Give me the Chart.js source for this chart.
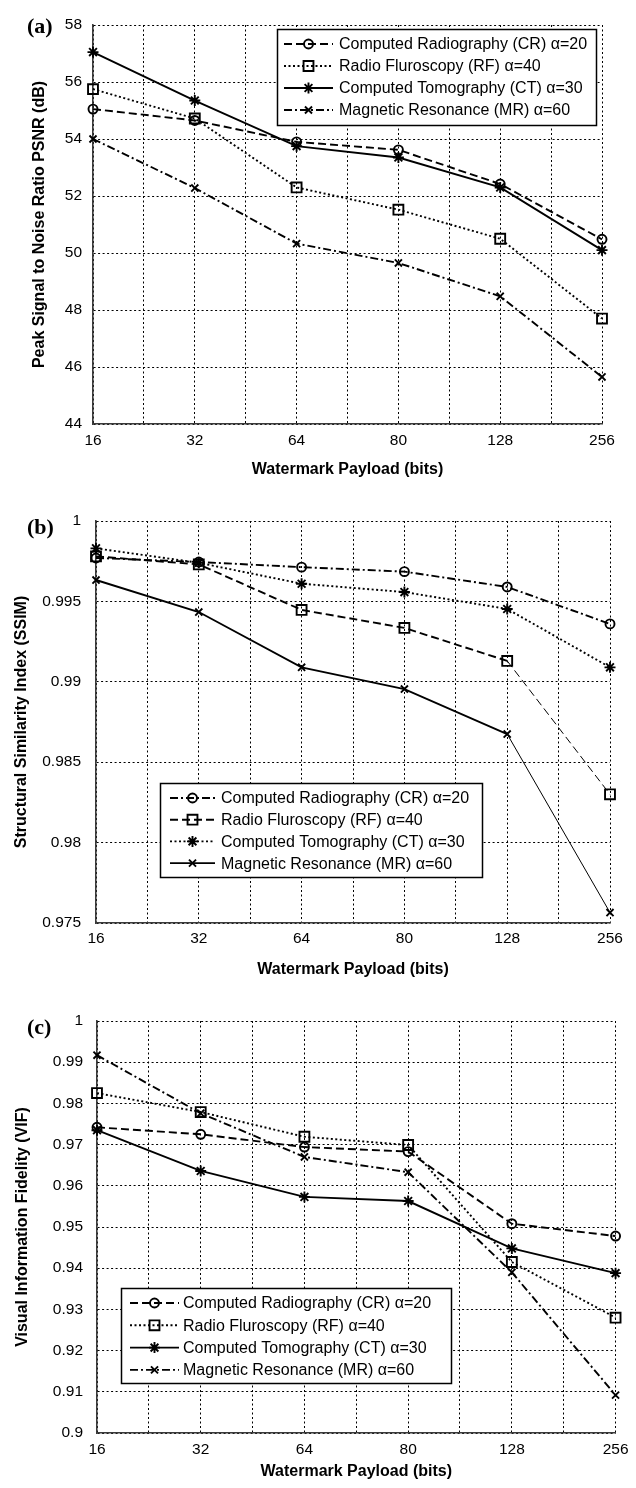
<!DOCTYPE html>
<html><head><meta charset="utf-8">
<script src="https://cdn.jsdelivr.net/npm/chart.js@4.4.1/dist/chart.umd.min.js"></script>
<style>
html,body{margin:0;padding:0;background:#fff;}
body{width:636px;height:1488px;position:relative;overflow:hidden;}
.panel{position:absolute;left:0;width:636px;}
.panel canvas{display:block;}
.tag{position:absolute;left:27px;font:bold 22px "Liberation Serif","Times New Roman",serif;line-height:22px;color:#000;}
</style></head><body>
<div class="panel" style="top:0;height:490px"><canvas id="cA" width="636" height="490"></canvas></div>
<div class="panel" style="top:490px;height:495px"><canvas id="cB" width="636" height="495"></canvas></div>
<div class="panel" style="top:985px;height:503px"><canvas id="cC" width="636" height="503"></canvas></div>
<div class="tag" style="top:15px">(a)</div>
<div class="tag" style="top:516px">(b)</div>
<div class="tag" style="top:1016px">(c)</div>
<script>
// ---------- data ----------
const payload = ['16','32','64','80','128','256'];
const seriesNames = ['Computed Radiography (CR) \u03b1=20','Radio Fluroscopy (RF) \u03b1=40','Computed Tomography (CT) \u03b1=30','Magnetic Resonance (MR) \u03b1=60'];

const psnrCR = [55.05, 54.65, 53.90, 53.62, 52.42, 50.48];
const psnrRF = [55.75, 54.72, 52.30, 51.52, 50.50, 47.70];
const psnrCT = [57.05, 55.35, 53.75, 53.35, 52.30, 50.10];
const psnrMR = [54.00, 52.28, 50.33, 49.65, 48.48, 45.65];

const ssimCR = [0.9977, 0.99745, 0.99713, 0.99685, 0.9959, 0.9936];
const ssimRF = [0.9978, 0.9973, 0.99447, 0.99335, 0.9913, 0.9830];
const ssimCT = [0.9983, 0.9974, 0.9961, 0.99558, 0.99453, 0.9909];
const ssimMR = [0.99633, 0.99434, 0.9909, 0.98955, 0.98675, 0.97565];

const vifCR = [0.9742, 0.9725, 0.9694, 0.9683, 0.9508, 0.9478];
const vifRF = [0.9825, 0.9779, 0.9719, 0.9699, 0.9415, 0.9280];
const vifCT = [0.9735, 0.9636, 0.9573, 0.9563, 0.9448, 0.9388];
const vifMR = [0.9917, 0.9776, 0.9670, 0.9633, 0.9390, 0.9092];

const psnrAxis = [44, 58, 2];
const ssimAxis = [0.975, 1, 0.005];
const vifAxis  = [0.9, 1, 0.01];

// ---------- fonts ----------
function hasFont(name){
  const c=document.createElement('canvas').getContext('2d');
  const s='abcdefghijklmnopqrstuvwxyzABCDEFGH0123456789';
  c.font='40px monospace'; const a=c.measureText(s).width;
  c.font='40px "'+name+'", monospace'; const b=c.measureText(s).width;
  return Math.abs(a-b)>0.5;
}
const NARROW = hasFont('Liberation Sans Narrow');
const tickFont = NARROW ? {family:'"Liberation Sans Narrow"', size:17.5} : {family:'"Liberation Sans", Arial, sans-serif', size:15.5};
const legendFont = NARROW ? '19.5px "Liberation Sans Narrow"' : '16px "Liberation Sans", Arial, sans-serif';
const titleFont = {family:'"Liberation Sans", Arial, sans-serif', size:16, weight:'bold'};

// ---------- styles ----------
const DASH = {solid:[], dashed:[8,4], dotted:[2,2.5], dashdot:[8,3,2,3]};
const RAD = {circle:4.5, rect:7, star:5.5, crossRot:5};

function mkDs(name, vals, line, marker, thinLast){
  const d = {
    label:name,
    data: vals.map((v,i)=>({x:i, y:v})),
    borderColor:'#000', borderWidth:1.9, borderDash:DASH[line],
    pointStyle:marker, pointRadius:RAD[marker], pointBorderWidth:1.9,
    pointBorderColor:'#000', pointBackgroundColor:'rgba(0,0,0,0)',
    tension:0, fill:false, clip:false
  };
  if (thinLast) d.segment = {borderWidth: c => c.p1DataIndex === 5 ? 1 : undefined};
  return d;
}

const boxLegend = {
  id:'boxLegend',
  afterDatasetsDraw(chart, args, o){
    if(!o || !o.w) return;
    const ctx = chart.ctx;
    ctx.save();
    ctx.setLineDash([]);
    ctx.fillStyle='#fff'; ctx.fillRect(o.x, o.y, o.w, o.h);
    ctx.strokeStyle='#000'; ctx.lineWidth=1.5; ctx.strokeRect(o.x+0.5, o.y+0.5, o.w, o.h);
    chart.data.datasets.forEach((ds,i)=>{
      const cy = o.y + o.first + i*o.row;
      ctx.save();
      ctx.strokeStyle = ds.borderColor; ctx.lineWidth = ds.borderWidth;
      ctx.setLineDash(ds.borderDash||[]);
      ctx.beginPath(); ctx.moveTo(o.x+o.s0, cy); ctx.lineTo(o.x+o.s1, cy); ctx.stroke();
      ctx.restore();
      ctx.save();
      ctx.setLineDash([]);
      ctx.strokeStyle = ds.pointBorderColor; ctx.fillStyle = ds.pointBackgroundColor;
      ctx.lineWidth = ds.pointBorderWidth;
      Chart.helpers.drawPoint(ctx, {pointStyle:ds.pointStyle, radius:ds.pointRadius, borderWidth:ds.pointBorderWidth, rotation:0}, o.x+(o.s0+o.s1)/2, cy);
      ctx.restore();
      ctx.fillStyle='#000'; ctx.font = legendFont; ctx.textBaseline='middle'; ctx.textAlign='left';
      ctx.fillText(ds.label, o.x+o.textX, cy+1);
    });
    ctx.restore();
  }
};

function fmt(v){ return String(parseFloat(v.toFixed(4))); }

function makeChart(id, datasets, cfg){
  const H = cfg.h;
  return new Chart(document.getElementById(id), {
    type:'line',
    data:{datasets},
    plugins:[boxLegend],
    options:{
      responsive:false, animation:false, devicePixelRatio:1, events:[],
      layout:{padding:{left:0, top:cfg.area.top, right:636-cfg.area.right, bottom:0}},
      plugins:{legend:{display:false}, tooltip:{enabled:false}, boxLegend:cfg.legend},
      scales:{
        x:{
          type:'linear', min:0, max:5,
          afterFit: s => { s.height = H - cfg.area.bottom; },
          ticks:{stepSize:0.5, autoSkip:false, maxRotation:0, minRotation:0, padding:cfg.xTickPad, color:'#000', font:tickFont,
                 callback: v => Number.isInteger(v) ? payload[v] : ''},
          grid:{color:'#000', lineWidth:1, drawTicks:false},
          border:{display:true, color:'#3a3a3a', width:1.6, dash:[2,2.5]},
          title:{display:true, text:'Watermark Payload (bits)', color:'#000', font:titleFont, padding:{top:0, bottom:cfg.xTitlePad}}
        },
        y:{
          min:cfg.axis[0], max:cfg.axis[1],
          afterFit: s => { s.width = cfg.area.left; },
          ticks:{stepSize:cfg.axis[2], padding:cfg.yTickPad, color:'#000', font:tickFont, callback: v => fmt(v)},
          grid:{color:'#000', lineWidth:1, drawTicks:false},
          border:{display:true, color:'#3a3a3a', width:1.6, dash:[2,2.5]},
          title:{display:true, text:cfg.yTitle, color:'#000', font:titleFont, padding:{top:cfg.yTitlePad, bottom:0}}
        }
      }
    }
  });
}

makeChart('cA', [
  mkDs(seriesNames[0], psnrCR, 'dashed', 'circle'),
  mkDs(seriesNames[1], psnrRF, 'dotted', 'rect'),
  mkDs(seriesNames[2], psnrCT, 'solid', 'star'),
  mkDs(seriesNames[3], psnrMR, 'dashdot', 'crossRot')
], {h:490, area:{left:93, right:602, top:25, bottom:424}, axis:psnrAxis,
    yTitle:'Peak Signal to Noise Ratio PSNR (dB)', yTitlePad:30, yTickPad:11, xTickPad:7, xTitlePad:11,
    legend:{x:277, y:29, w:319, h:96, first:15, row:22, s0:7, s1:56, textX:62}});

makeChart('cB', [
  mkDs(seriesNames[0], ssimCR, 'dashdot', 'circle'),
  mkDs(seriesNames[1], ssimRF, 'dashed', 'rect', true),
  mkDs(seriesNames[2], ssimCT, 'dotted', 'star'),
  mkDs(seriesNames[3], ssimMR, 'solid', 'crossRot', true)
], {h:495, area:{left:96, right:610, top:31, bottom:433}, axis:ssimAxis,
    yTitle:'Structural Similarity Index (SSIM)', yTitlePad:12, yTickPad:15, xTickPad:6.5, xTitlePad:5.5,
    legend:{x:160, y:293, w:322, h:94, first:15, row:21.7, s0:10, s1:55, textX:61}});

makeChart('cC', [
  mkDs(seriesNames[0], vifCR, 'dashed', 'circle'),
  mkDs(seriesNames[1], vifRF, 'dotted', 'rect'),
  mkDs(seriesNames[2], vifCT, 'solid', 'star'),
  mkDs(seriesNames[3], vifMR, 'dashdot', 'crossRot')
], {h:503, area:{left:97, right:622, top:36, bottom:448}, axis:vifAxis,
    yTitle:'Visual Information Fidelity (VIF)', yTitlePad:13, yTickPad:14, xTickPad:7.5, xTitlePad:6.5,
    legend:{x:121, y:303, w:330, h:95, first:15, row:22.3, s0:9, s1:58, textX:62}});
</script>
</body></html>
